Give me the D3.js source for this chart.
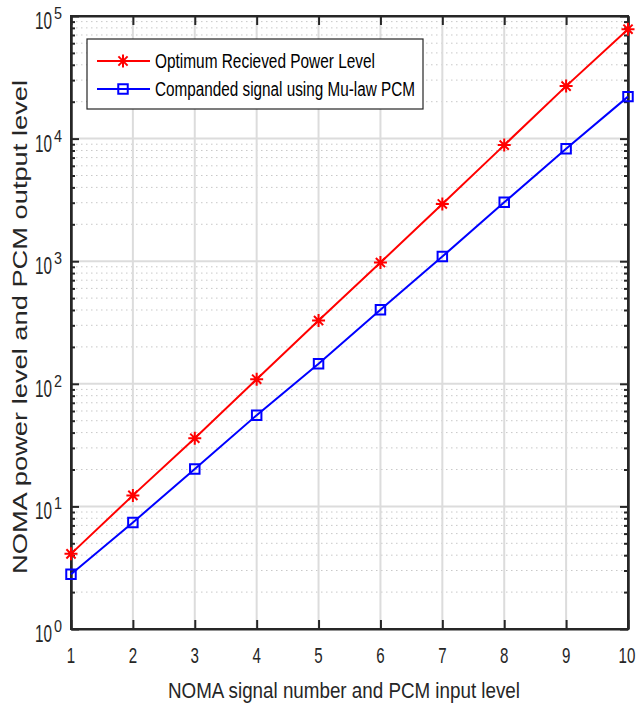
<!DOCTYPE html>
<html>
<head>
<meta charset="utf-8">
<script src="https://cdn.jsdelivr.net/npm/d3@7"></script>
<style>
  body { margin: 0; background: #fff; }
  svg { display: block; font-family: "Liberation Sans", Arial, sans-serif; }
  .axis path, .axis line { stroke: #262626; }
</style>
</head>
<body>
<div id="chart"></div>
<script>
// data
const levels = [1, 2, 3, 4, 5, 6, 7, 8, 9, 10];
const optimumPower = [4.1, 12.3, 36, 109, 328, 975, 2930, 8850, 26800, 78000];
const compandedPcm = [2.8, 7.4, 20.2, 55.5, 146, 402, 1090, 3020, 8250, 22000];
const decadeExps = [0, 1, 2, 3, 4, 5];
const seriesNames = ["Optimum Recieved Power Level", "Companded signal using Mu-law PCM"];
const seriesColors = ["#ff0000", "#0000ff"];

const svgWidth = 638, svgHeight = 707;
const margin = { top: 16, right: 10, bottom: 78, left: 71 };
const width = svgWidth - margin.left - margin.right;
const height = svgHeight - margin.top - margin.bottom;

const svg = d3.select("#chart").append("svg")
    .attr("width", svgWidth)
    .attr("height", svgHeight);

const g = svg.append("g")
    .attr("transform", `translate(${margin.left},${margin.top})`);

const xScale = d3.scaleLinear().domain([1, 10]).range([0, width]);
const yScale = d3.scaleLog().domain([1, 1e5]).range([height, 0]);

// minor values 2..9 in each decade
const minorVals = [];
decadeExps.slice(0, -1).forEach(e => {
    for (let k = 2; k <= 9; k++) minorVals.push(k * Math.pow(10, e));
});
const majorVals = decadeExps.map(e => Math.pow(10, e));

// grid
g.selectAll(".minor-grid").data(minorVals).enter().append("line")
    .attr("class", "minor-grid")
    .attr("x1", 0).attr("x2", width)
    .attr("y1", d => yScale(d)).attr("y2", d => yScale(d))
    .attr("stroke", "#c8c8c8").attr("stroke-width", 1)
    .attr("stroke-dasharray", "1.5,3.5");

g.selectAll(".major-ygrid").data(majorVals).enter().append("line")
    .attr("x1", 0).attr("x2", width)
    .attr("y1", d => yScale(d)).attr("y2", d => yScale(d))
    .attr("stroke", "#dcdcdc").attr("stroke-width", 2);

g.selectAll(".major-xgrid").data(levels).enter().append("line")
    .attr("x1", d => xScale(d)).attr("x2", d => xScale(d))
    .attr("y1", 0).attr("y2", height)
    .attr("stroke", "#dcdcdc").attr("stroke-width", 2);

// axes, ticks pointing inward
function styleAxis(sel) {
    sel.attr("class", "axis");
    sel.selectAll("path, line").attr("stroke-width", 2);
    sel.selectAll("text").remove();
}
g.append("g").attr("transform", `translate(0,${height})`)
    .call(d3.axisBottom(xScale).tickValues(levels).tickSize(-9).tickSizeOuter(0).tickFormat(""))
    .call(styleAxis);
g.append("g")
    .call(d3.axisTop(xScale).tickValues(levels).tickSize(-9).tickSizeOuter(0).tickFormat(""))
    .call(styleAxis);
g.append("g")
    .call(d3.axisLeft(yScale).tickValues(majorVals).tickSize(-8).tickSizeOuter(0).tickFormat(""))
    .call(styleAxis);
g.append("g")
    .call(d3.axisLeft(yScale).tickValues(minorVals).tickSize(-4).tickSizeOuter(0).tickFormat(""))
    .call(styleAxis);
g.append("g").attr("transform", `translate(${width},0)`)
    .call(d3.axisRight(yScale).tickValues(majorVals).tickSize(-8).tickSizeOuter(0).tickFormat(""))
    .call(styleAxis);
g.append("g").attr("transform", `translate(${width},0)`)
    .call(d3.axisRight(yScale).tickValues(minorVals).tickSize(-4).tickSizeOuter(0).tickFormat(""))
    .call(styleAxis);

g.append("rect")
    .attr("width", width).attr("height", height)
    .attr("fill", "none").attr("stroke", "#262626").attr("stroke-width", 2);

// tick labels
g.selectAll(".xlab").data(levels).enter().append("text")
    .attr("x", d => d === 10 ? xScale(d) - 1 : xScale(d))
    .attr("y", height + 34)
    .attr("text-anchor", "middle")
    .attr("font-size", 22)
    .attr("fill", "#262626")
    .attr("textLength", d => String(d).length * 8.4)
    .attr("lengthAdjust", "spacingAndGlyphs")
    .text(d => d);

const ylab = g.selectAll(".ylab").data(decadeExps).enter().append("g")
    .attr("transform", e => `translate(0,${yScale(Math.pow(10, e))})`);
ylab.append("text")
    .attr("x", -36).attr("y", 13)
    .attr("font-size", 23)
    .attr("fill", "#262626")
    .attr("textLength", 17)
    .attr("lengthAdjust", "spacingAndGlyphs")
    .text("10");
ylab.append("text")
    .attr("x", -17).attr("y", 3)
    .attr("font-size", 16)
    .attr("fill", "#262626")
    .attr("textLength", 8)
    .attr("lengthAdjust", "spacingAndGlyphs")
    .text(e => e);

// axis titles
svg.append("text")
    .attr("x", 344).attr("y", 698)
    .attr("text-anchor", "middle")
    .attr("font-size", 22)
    .attr("fill", "#262626")
    .attr("textLength", 352)
    .attr("lengthAdjust", "spacingAndGlyphs")
    .text("NOMA signal number and PCM input level");

svg.append("text")
    .attr("transform", "translate(27,327) rotate(-90)")
    .attr("text-anchor", "middle")
    .attr("font-size", 21)
    .attr("fill", "#262626")
    .attr("textLength", 494)
    .attr("lengthAdjust", "spacingAndGlyphs")
    .text("NOMA power level and PCM output level");

// markers
const asterisk = {
    draw(ctx, size) {
        const r = Math.sqrt(size) / 2;
        const d = r * Math.SQRT1_2;
        ctx.moveTo(0, -r); ctx.lineTo(0, r);
        ctx.moveTo(-r, 0); ctx.lineTo(r, 0);
        ctx.moveTo(-d, -d); ctx.lineTo(d, d);
        ctx.moveTo(-d, d); ctx.lineTo(d, -d);
    }
};
const starPath = d3.symbol().type(asterisk).size(169)();
const squarePath = d3.symbol().type(d3.symbolSquare).size(90)();

const line = d3.line()
    .x((d, i) => xScale(levels[i]))
    .y(d => yScale(d));

[optimumPower, compandedPcm].forEach((vals, si) => {
    g.append("path")
        .datum(vals)
        .attr("fill", "none")
        .attr("stroke", seriesColors[si])
        .attr("stroke-width", 2)
        .attr("d", line);
    g.selectAll(".m" + si).data(vals).enter().append("path")
        .attr("transform", (d, i) => `translate(${xScale(levels[i])},${yScale(d)})`)
        .attr("d", si === 0 ? starPath : squarePath)
        .attr("fill", "none")
        .attr("stroke", seriesColors[si])
        .attr("stroke-width", 2);
});

// legend
const legend = svg.append("g").attr("transform", "translate(87,39)");
legend.append("rect")
    .attr("width", 336).attr("height", 70)
    .attr("fill", "#fff").attr("stroke", "#262626").attr("stroke-width", 1.2);
const textWidths = [220, 260];
seriesNames.forEach((name, i) => {
    const row = legend.append("g").attr("transform", `translate(0,${22 + i * 28})`);
    row.append("line")
        .attr("x1", 10).attr("x2", 63)
        .attr("stroke", seriesColors[i]).attr("stroke-width", 2);
    row.append("path")
        .attr("transform", "translate(36,0)")
        .attr("d", i === 0 ? starPath : squarePath)
        .attr("fill", "none")
        .attr("stroke", seriesColors[i]).attr("stroke-width", 2);
    row.append("text")
        .attr("x", 68).attr("y", 7)
        .attr("font-size", 20)
        .attr("fill", "#000")
        .attr("textLength", textWidths[i])
        .attr("lengthAdjust", "spacingAndGlyphs")
        .text(name);
});
</script>
</body>
</html>
